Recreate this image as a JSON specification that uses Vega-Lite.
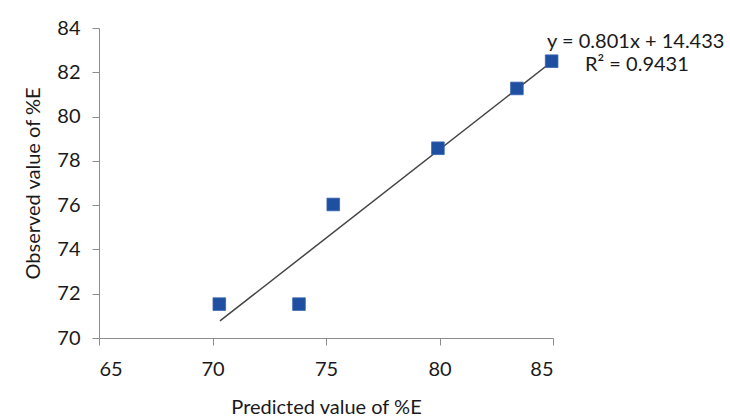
{
  "$schema": "https://vega.github.io/schema/vega-lite/v6.json",
  "width": 454,
  "height": 310,
  "autosize": {"type": "none"},
  "padding": {"left": 99, "top": 28, "right": 177, "bottom": 82},
  "background": "white",
  "config": {
    "view": {"stroke": null},
    "font": "Lato",
    "axis": {
      "grid": false,
      "domainColor": "#8c8c8c",
      "tickColor": "#8c8c8c",
      "tickSize": 7,
      "labelFont": "Lato",
      "labelFontSize": 20,
      "labelColor": "#1a1a1a",
      "titleFont": "Lato",
      "titleFontSize": 20,
      "titleFontWeight": "normal",
      "titleColor": "#1a1a1a"
    }
  },
  "datasets": {
    "pts": [
      {"predicted": 70.3, "observed": 71.53},
      {"predicted": 73.81, "observed": 71.53},
      {"predicted": 75.32, "observed": 76.03},
      {"predicted": 79.93, "observed": 78.57},
      {"predicted": 83.41, "observed": 81.27},
      {"predicted": 84.94, "observed": 82.5}
    ],
    "trend": [
      {"predicted": 70.33, "observed": 70.77},
      {"predicted": 85.0, "observed": 82.52}
    ],
    "labels": [
      {"predicted": 84.74, "observed": 83.35, "label": "y = 0.801x + 14.433"},
      {"predicted": 86.41, "observed": 82.35, "label": "R² = 0.9431"}
    ]
  },
  "encoding": {
    "x": {"field": "predicted", "type": "quantitative", "scale": {"domain": [65, 85], "nice": false, "zero": false}, "axis": {"values": [65, 70, 75, 80, 85], "title": "Predicted value of %E", "labelPadding": 14, "titlePadding": 18}},
    "y": {"field": "observed", "type": "quantitative", "scale": {"domain": [70, 84], "nice": false, "zero": false}, "axis": {"values": [70, 72, 74, 76, 78, 80, 82, 84], "title": "Observed value of %E", "labelPadding": 12, "titlePadding": 13}}
  },
  "layer": [
    {
      "data": {"name": "trend"},
      "mark": {"type": "line", "color": "#444444", "strokeWidth": 1.5}
    },
    {
      "data": {"name": "pts"},
      "mark": {"type": "point", "shape": "square", "filled": true, "size": 160, "color": "#1f4fa0", "opacity": 1, "stroke": "#3a66b0", "strokeWidth": 0.8}
    },
    {
      "data": {"name": "labels"},
      "mark": {"type": "text", "align": "left", "baseline": "middle", "fontSize": 20, "color": "#1a1a1a", "clip": false},
      "encoding": {
        "text": {"field": "label"}
      }
    }
  ]
}
